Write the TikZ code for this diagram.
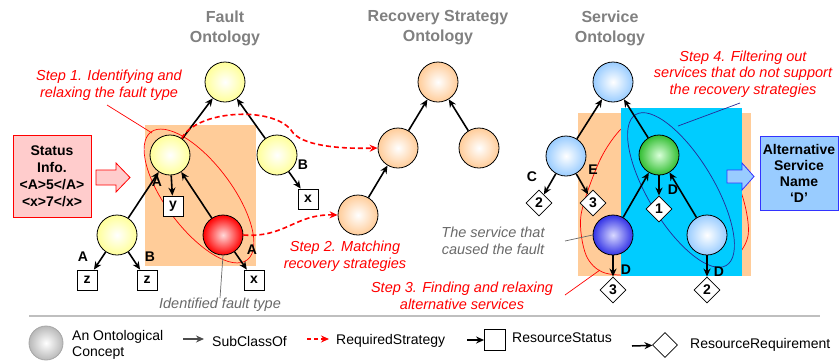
\documentclass[tikz,border=0pt]{standalone}
\usepackage{tikz}
\usepackage{xcolor}
\usepackage{fontspec}
\setmainfont{Liberation Sans}
\usetikzlibrary{shapes.geometric, arrows.meta, positioning, calc}
\definecolor{faultY}{RGB}{255, 255, 153}
\definecolor{peach}{RGB}{255, 204, 153}
\definecolor{svcblue}{RGB}{153, 204, 255}
\definecolor{svcgreen}{RGB}{50, 190, 50}
\definecolor{svcdark}{RGB}{51, 51, 230}
\definecolor{cyanbg}{RGB}{0, 204, 255}
\definecolor{notegray}{RGB}{105, 105, 105}
\definecolor{titlegray}{RGB}{128, 128, 128}
\definecolor{pinkbox}{RGB}{255, 204, 204}
\definecolor{navyline}{RGB}{40, 40, 150}

\begin{document}
\begin{tikzpicture}[x=1pt, y=-1pt,
    concept/.style={circle, draw, thick, minimum size=40pt, inner sep=0pt, inner color=white},
    res/.style={rectangle, draw, thick, fill=white, minimum size=20pt, inner sep=0pt,
                font=\fontsize{14}{16}\selectfont\bfseries},
    req/.style={diamond, draw, thick, fill=white, minimum width=26pt, minimum height=26pt,
                inner sep=0pt, font=\fontsize{14}{16}\selectfont\bfseries},
    sub/.style={-{Stealth[length=8pt, width=7pt]}, line width=1.6pt},
    strat/.style={-{Stealth[length=8pt, width=7pt]}, red, line width=1.6pt, dash pattern=on 5pt off 3pt},
    lbl/.style={font=\fontsize{14}{16}\selectfont\bfseries, inner sep=0pt},
    title/.style={font=\fontsize{16}{20}\selectfont\bfseries, text=titlegray, align=center},
    stepnote/.style={font=\fontsize{14.5}{16.5}\selectfont\itshape, text=red, align=center, inner sep=0pt},
    note/.style={font=\fontsize{14.5}{16.5}\selectfont\itshape, text=notegray, align=center, inner sep=0pt},
    infobox/.style={rectangle, draw, thick, align=center, inner sep=0pt,
                font=\fontsize{14}{17}\selectfont\bfseries},
    legtext/.style={font=\fontsize{14}{16}\selectfont, inner sep=0pt, anchor=west, align=left}]
    \useasboundingbox (0,0) rectangle (839,360);

    % Backgrounds
    \fill[peach] (145,125) rectangle (256,266);
    \draw[red, line width=0.7pt, rotate around={-53:(199,196)}] (199,196) ellipse [x radius=80, y radius=33];
    \fill[peach] (578,113) rectangle (751,276);
    \draw[red, line width=0.7pt] plot[smooth cycle] coordinates {(622,128) (600,160) (581,215) (586,255)
        (605,273) (650,275) (720,268) (748,236) (736,180) (690,125) (650,112)};
    \fill[cyanbg] (621,108) rectangle (742,276);
    \draw[navyline, line width=0.7pt, rotate around={-59:(681,190)}] (681,190) ellipse [x radius=88, y radius=33];

    % Titles
    \node[title] (tFault) at (225,28) {Fault\\Ontology};
    \node[title] (tRec) at (438,28) {Recovery Strategy\\Ontology};
    \node[title] (tSvc) at (610,28) {Service\\Ontology};

    % Fault ontology
    \node[concept, outer color=faultY] (F0) at (225,82) {};
    \node[concept, outer color=faultY] (F1) at (170,155) {};
    \node[concept, outer color=faultY] (F2) at (277,155) {};
    \node[concept, outer color=faultY] (F3) at (117,235) {};
    \node[concept, inner color=red!15, outer color=red] (F4) at (223,235) {};
    \node[res] (y1) at (173,206) {y};
    \node[res] (z1) at (87,280) {z};
    \node[res] (z2) at (147,280) {z};
    \node[res] (x1) at (254,280) {x};
    \node[res] (x2) at (308,199) {x};

    % Recovery strategy ontology
    \node[concept, outer color=peach] (R0) at (438,82) {};
    \node[concept, outer color=peach] (R1) at (398,148) {};
    \node[concept, outer color=peach] (R2) at (479,148) {};
    \node[concept, outer color=peach] (R3) at (358,215) {};

    % Service ontology
    \node[concept, outer color=svcblue] (S0) at (613,82) {};
    \node[concept, outer color=svcblue] (S1) at (566,156) {};
    \node[concept, inner color=green!15, outer color=svcgreen] (S2) at (659,155) {};
    \node[concept, inner color=blue!15, outer color=svcdark] (S3) at (613,235) {};
    \node[concept, outer color=svcblue] (S4) at (707,235) {};
    \node[req] (d1) at (539,203) {2};
    \node[req] (d2) at (593,203) {3};
    \node[req] (d3) at (659,209) {1};
    \node[req] (d4) at (613,290) {3};
    \node[req] (d5) at (707,290) {2};

    % Arrows
    \draw[sub] (F1) -- (F0);
    \draw[sub] (F2) -- (F0);
    \draw[sub] (F3) -- (F1);
    \draw[sub] (F4) -- (F1);
    \draw[sub] (F1) -- (y1);
    \draw[sub] (F3) -- (z1);
    \draw[sub] (F3) -- (z2);
    \draw[sub] (F4) -- (x1);
    \draw[sub] (F2) -- (x2);
    \draw[sub] (R1) -- (R0);
    \draw[sub] (R2) -- (R0);
    \draw[sub] (R3) -- (R1);
    \draw[sub] (S1) -- (S0);
    \draw[sub] (S2) -- (S0);
    \draw[sub] (S3) -- (S2);
    \draw[sub] (S4) -- (S2);
    \draw[sub] (S1) -- (d1);
    \draw[sub] (S1) -- (d2);
    \draw[sub] (S2) -- (d3);
    \draw[sub] (S3) -- (d4);
    \draw[sub] (S4) -- (d5);

    % Edge labels
    \node[lbl] (lA1) at (157,182) {A};
    \node[lbl] (lA2) at (83,257) {A};
    \node[lbl] (lB1) at (150,257) {B};
    \node[lbl] (lA3) at (252,250) {A};
    \node[lbl] (lB2) at (303,165) {B};
    \node[lbl] (lC) at (532,177) {C};
    \node[lbl] (lE) at (593,170) {E};
    \node[lbl] (lD1) at (673,190) {D};
    \node[lbl] (lD2) at (626,270) {D};
    \node[lbl] (lD3) at (719,272) {D};

    % Required strategies
    \draw[strat] (F1.55) .. controls (197,110) and (272,106) .. (291,130)
        .. controls (300,146) and (340,149) .. (R1.west);
    \draw[strat] (F4.east) .. controls (285,238) and (295,214) .. (R3.west);

    % Input and output
    \node[infobox, fill=pinkbox, draw=red, minimum width=78pt, minimum height=82pt] (status) at (52,176)
        {Status\\Info.\\<A>5</A>\\<x>7</x>};
    \draw[red, fill=pinkbox, thick] (96,170) -- (116,170) -- (116,163) -- (130,177.5) -- (116,192)
        -- (116,185) -- (96,185) -- cycle;
    \node[infobox, fill=svcblue, draw=blue!80, minimum width=78pt, minimum height=74pt,
        font=\fontsize{14}{16}\selectfont\bfseries] (altname) at (799,173)
        {Alternative\\Service\\Name\\‘D’};
    \draw[blue!80, fill=svcblue, thick] (727,170) -- (742,170) -- (742,163) -- (754,176.5) -- (742,190)
        -- (742,183) -- (727,183) -- cycle;

    % Steps and notes
    \node[stepnote] (step1) at (109,85) {Step 1. Identifying and\\relaxing the fault type};
    \node[stepnote] (step2) at (345,256) {Step 2. Matching\\recovery strategies};
    \node[stepnote] (step3) at (462,296) {Step 3. Finding and relaxing\\alternative services};
    \node[stepnote] (step4) at (743,74) {Step 4. Filtering out\\services that do not support\\the recovery strategies};
    \node[note] (identified) at (220,305) {Identified fault type};
    \node[note] (causer) at (493,241) {The service that\\caused the fault};
    \coordinate (s1from) at (107,105);
    \coordinate (s1to) at (152,133);
    \coordinate (s3from) at (565,295);
    \coordinate (s3to) at (600,270);
    \coordinate (s4from) at (740,103);
    \coordinate (s4to) at (678,126);
    \coordinate (causerFrom) at (565,241);
    \draw[red, line width=0.7pt] (s1from) -- (s1to);
    \draw[red, line width=0.7pt] (s3from) -- (s3to);
    \draw[navyline, line width=0.7pt] (s4from) -- (s4to);
    \draw[notegray, line width=0.7pt] (F4.south) -- (identified.north);
    \draw[notegray, line width=0.7pt] (causerFrom) -- (S3.west);

    % Legend
    \draw[gray!50, line width=1.5pt] (29,316) -- (820,316);
    \node[concept, draw=gray!70, outer color=gray!55, minimum size=34pt] (legConcept) at (46,343) {};
    \node[legtext] (legConceptTxt) at (72,345) {An Ontological\\Concept};
    \coordinate (legSubA) at (183,339);
    \coordinate (legSubB) at (204,339);
    \draw[sub, draw=black!70, fill=black!70, line width=1.5pt] (legSubA) -- (legSubB);
    \node[legtext] (legSubTxt) at (212,341) {SubClassOf};
    \coordinate (legReqA) at (307,339);
    \coordinate (legReqB) at (329,339);
    \draw[strat, dash pattern=on 4pt off 3pt] (legReqA) -- (legReqB);
    \node[legtext] (legReqTxt) at (336,341) {RequiredStrategy};
    \coordinate (legStatA) at (467,340);
    \node[res, minimum size=21pt] (legStatBox) at (495,340) {};
    \draw[sub, line width=1.5pt] (legStatA) -- (legStatBox);
    \node[legtext] (legStatTxt) at (512,338) {ResourceStatus};
    \coordinate (legRreqA) at (632,346);
    \node[req, minimum width=25pt, minimum height=25pt] (legRreqBox) at (665,345) {};
    \draw[sub, line width=1.5pt] (legRreqA) -- (legRreqBox);
    \node[legtext] (legRreqTxt) at (690,345) {ResourceRequirement};
\end{tikzpicture}
\end{document}
